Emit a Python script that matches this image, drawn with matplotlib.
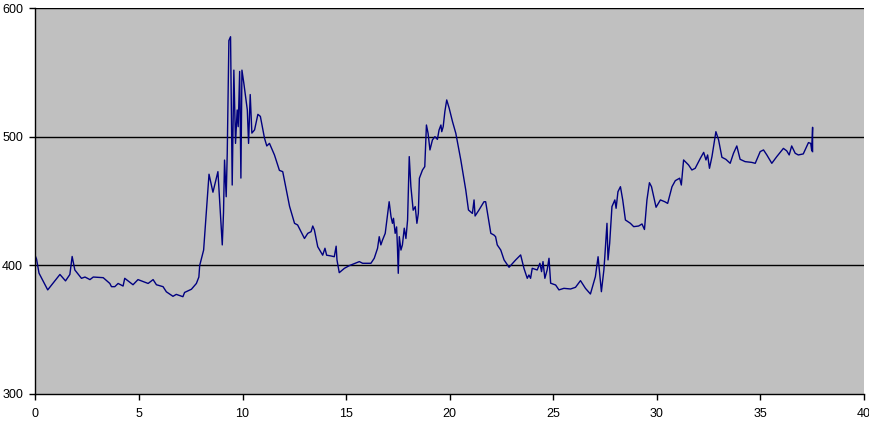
import matplotlib
matplotlib.use("Agg")
import matplotlib.pyplot as plt

x_vals = [0.0, 0.05, 0.17, 0.59, 1.18, 1.45, 1.66, 1.77, 1.9, 2.22, 2.39, 2.63, 2.79, 3.27,
          3.59, 3.67, 3.83, 3.99, 4.23, 4.31, 4.71, 4.95, 5.44, 5.68, 5.84, 6.16, 6.32, 6.64,
          6.8, 7.12, 7.2, 7.53, 7.77, 7.89, 7.93, 8.12, 8.38, 8.57, 8.81, 9.02, 9.08, 9.13,
          9.21, 9.26, 9.34, 9.42, 9.5, 9.58, 9.66, 9.74, 9.79, 9.86, 9.92, 9.97, 10.06, 10.23,
          10.29, 10.37, 10.45, 10.58, 10.74, 10.86, 11.06, 11.17, 11.3, 11.54, 11.78, 11.94,
          12.27, 12.51, 12.66, 12.99, 13.15, 13.31, 13.39, 13.47, 13.63, 13.87, 13.98, 14.06,
          14.27, 14.43, 14.52, 14.56, 14.67, 14.92, 15.16, 15.64, 15.8, 16.2, 16.36, 16.52,
          16.6, 16.68, 16.76, 16.89, 16.95, 17.08, 17.17, 17.24, 17.29, 17.37, 17.44, 17.48,
          17.52, 17.57, 17.65, 17.72, 17.81, 17.89, 17.97, 18.05, 18.13, 18.24, 18.34, 18.42,
          18.49, 18.54, 18.69, 18.8, 18.88, 18.96, 19.05, 19.17, 19.29, 19.41, 19.49, 19.58,
          19.62, 19.69, 19.77, 19.86, 19.98, 20.14, 20.3, 20.54, 20.78, 20.91, 21.1, 21.18,
          21.23, 21.42, 21.66, 21.74, 21.99, 22.14, 22.22, 22.3, 22.47, 22.63, 22.87, 23.19,
          23.43, 23.59, 23.75, 23.83, 23.91, 23.99, 24.23, 24.36, 24.44, 24.51, 24.6, 24.71,
          24.8, 24.88, 25.12, 25.28, 25.52, 25.84, 26.08, 26.32, 26.56, 26.8, 27.04, 27.17,
          27.33, 27.45, 27.49, 27.6, 27.65, 27.73, 27.84, 27.98, 28.04, 28.13, 28.25, 28.36,
          28.49, 28.73, 28.89, 29.13, 29.29, 29.41, 29.53, 29.65, 29.75, 29.97, 30.18, 30.39,
          30.53, 30.74, 30.9, 31.11, 31.19, 31.3, 31.54, 31.7, 31.86, 32.11, 32.27, 32.38,
          32.46, 32.55, 32.67, 32.8, 32.86, 32.99, 33.15, 33.34, 33.55, 33.71, 33.87, 34.03,
          34.27, 34.59, 34.76, 35.0, 35.16, 35.32, 35.56, 35.8, 36.12, 36.28, 36.4, 36.52,
          36.69, 36.84, 37.08, 37.33, 37.44, 37.49, 37.53, 37.53]

y_vals = [407, 405, 394, 381, 393, 388, 393, 407, 396.5, 390, 391, 389, 391, 390.5,
          386, 383.5, 383.5, 386, 384, 390, 385, 389, 386, 389, 385, 383.5, 379.5, 376,
          377.5, 375.7, 379, 381.5, 386, 391, 400, 412, 471, 457, 473, 416, 441, 482,
          453.5, 487, 575, 578, 462.6, 552, 495, 521, 508, 551, 468, 552, 542, 521,
          495, 533, 503, 505.5, 517.6, 516, 499, 493, 495, 486, 474, 473,
          446, 432.8, 431.5, 421, 425, 426.3, 430.7, 427.6, 414.6, 408, 413.4, 408,
          407.4, 406.8, 415, 404.3, 394.4, 397.8, 399.9, 403, 401.7, 401.7, 405.6, 413.4,
          422.4, 416, 419.8, 425, 432.8, 449.6, 438, 432.8, 436.7, 425, 430, 414.6,
          393.9, 422.4, 412, 416, 429, 421, 435.4, 484.7, 461.3, 443, 445.8, 432.8,
          440.6, 467.9, 474.3, 476.9, 509.3, 502.8, 489.9, 497.7, 500.2, 498.1, 505.4, 509.3,
          504.1, 508, 519.7, 528.8, 522.3, 511.9, 502.8, 482.1, 458.7, 443.2, 440.5, 451,
          438.5, 443.2, 449.6, 449.6, 425, 423.7, 422.4, 416, 412, 404.3, 398.6, 404.3,
          408.2, 397.8, 390, 392.6, 390, 397.8, 396.5, 401.7, 395.2, 403, 390, 396.5,
          405.6, 386.2, 384.8, 381, 382.2, 381.7, 383, 388.2, 382.2, 377.8, 391.3, 406.8,
          379.6, 396.5, 405.6, 432.8, 404.3, 417.3, 445.8, 451, 444.5, 457.4, 461.3, 451,
          435.4, 432.8, 430.2, 430.7, 432.3, 428, 451, 464.4, 461.3, 445.3, 451, 449.6,
          448.3, 461.3, 466, 467.9, 462.6, 482.1, 478.2, 474.3, 475.6, 483.4, 488, 482.1,
          486, 475.6, 484.7, 497.7, 504.1, 497.7, 484.2, 482.6, 479.5, 487.3, 493, 482.6,
          480.8, 480.2, 479.5, 488.6, 489.9, 486, 479.5, 484.7, 491.1, 489.2, 486, 493,
          487.3, 486, 486.8, 495.6, 495, 489.2, 507.5, 488.6]

x_ticks = [0, 5, 10, 15, 20, 25, 30, 35, 40]
y_ticks = [300, 400, 500, 600]

plt.rcParams['font.family'] = ['Liberation Sans', 'DejaVu Sans']

fig = plt.figure(figsize=(8.7, 4.22), dpi=100)
ax = fig.add_axes([0.0408, 0.0664, 0.952, 0.9136])
ax.set_facecolor('#C0C0C0')

for v in [400, 500, 600]:
    ax.axhline(v, color='black', linewidth=1.0, zorder=1)

ax.plot(x_vals, y_vals, color='#000080', linewidth=1.0, zorder=2)

ax.set_xlim(0, 40)
ax.set_ylim(300, 600)
ax.set_xticks(x_ticks)
ax.set_yticks(y_ticks)
ax.set_xticklabels([str(t) for t in x_ticks])
ax.set_yticklabels([str(t) for t in y_ticks])

for s in ['top', 'right']:
    ax.spines[s].set_visible(False)
for s in ['left', 'bottom']:
    ax.spines[s].set_color('black')
    ax.spines[s].set_linewidth(1.0)

ax.tick_params(axis='both', direction='out', length=4, width=1, colors='black',
               labelsize=9)
ax.tick_params(axis='y', pad=5)
ax.tick_params(axis='x', pad=6)

fig.savefig('out.png', dpi=100, facecolor='white')
